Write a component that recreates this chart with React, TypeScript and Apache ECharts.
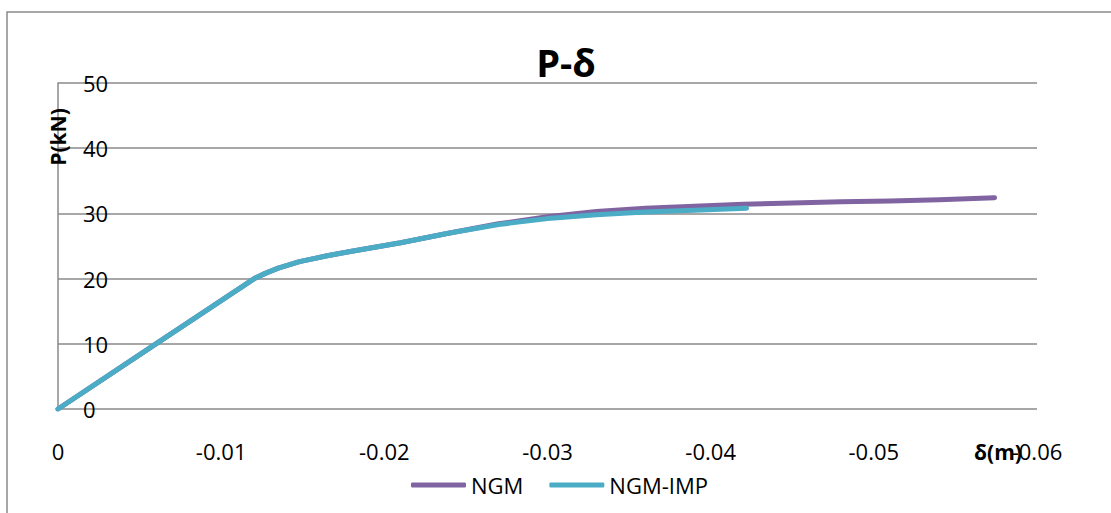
import React, { useEffect, useRef } from "react";
import * as echarts from "echarts";

const ngmX = [0, -0.006, -0.0121, -0.0127, -0.0135, -0.0148, -0.0165, -0.018, -0.021, -0.024, -0.027, -0.03, -0.033, -0.036, -0.039, -0.042, -0.045, -0.048, -0.051, -0.054, -0.0574];
const ngmY = [0, 10, 20.1, 20.8, 21.6, 22.6, 23.5, 24.2, 25.5, 27.0, 28.4, 29.5, 30.3, 30.8, 31.1, 31.4, 31.6, 31.8, 31.9, 32.1, 32.4];
const impX = [0, -0.006, -0.0121, -0.0127, -0.0135, -0.0148, -0.0165, -0.018, -0.021, -0.024, -0.027, -0.03, -0.033, -0.036, -0.039, -0.0422];
const impY = [0, 10, 20.1, 20.8, 21.6, 22.6, 23.5, 24.2, 25.5, 27.0, 28.3, 29.2, 29.8, 30.2, 30.5, 30.8];
const seriesNames = ["NGM", "NGM-IMP"];
const seriesColors = ["#8064A2", "#4BACC6"];
const titleText = "P-δ";
const xName = "δ(m)";
const yName = "P(kN)";

const FONT = "'Open Sans', 'Liberation Sans', sans-serif";

export default function App() {
  const ref = useRef<HTMLDivElement>(null);
  useEffect(() => {
    if (!ref.current) return;
    const chart = echarts.init(ref.current, null, { renderer: "svg" });
    const ngm = ngmX.map((x, i) => [x, ngmY[i]]);
    const imp = impX.map((x, i) => [x, impY[i]]);
    chart.setOption({
      animation: false,
      backgroundColor: "#ffffff",
      textStyle: { fontFamily: FONT },
      title: {
        text: titleText,
        left: 561,
        textAlign: "center",
        top: 38,
        textStyle: { fontFamily: FONT, fontSize: 38, fontWeight: "bold", color: "#000" },
      },
      grid: { left: 58, right: 74, top: 83, bottom: 104, containLabel: false },
      legend: {
        left: 406,
        top: 469,
        icon: "roundRect",
        itemWidth: 55,
        itemHeight: 5,
        itemGap: 26,
        textStyle: { fontFamily: FONT, fontSize: 22, color: "#000" },
        data: seriesNames,
      },
      xAxis: {
        type: "value",
        min: -0.06,
        max: 0,
        interval: 0.01,
        inverse: true,
        axisLine: { show: false },
        axisTick: { show: false },
        splitLine: { show: false },
        axisLabel: {
          margin: 31,
          fontSize: 22,
          fontFamily: FONT,
          color: "#000",
          formatter: (v: number) => (Math.abs(v) < 1e-9 ? "0" : String(+v.toFixed(2))),
        },
      },
      yAxis: {
        type: "value",
        min: 0,
        max: 50,
        interval: 10,
        axisLine: { show: true, lineStyle: { color: "#8a8a8a", width: 1.5 } },
        axisTick: { show: false },
        splitLine: { show: true, lineStyle: { color: "#8a8a8a", width: 1.5 } },
        axisLabel: {
          inside: true,
          margin: 25,
          fontSize: 22,
          fontFamily: FONT,
          color: "#000",
        },
      },
      graphic: [
        {
          type: "rect",
          shape: { x: 7, y: 12, width: 1300, height: 700 },
          style: { fill: "none", stroke: "#8a8a8a", lineWidth: 1.5 },
          silent: true,
          z: -1,
        },
        {
          type: "text",
          x: 58,
          y: 137,
          rotation: Math.PI / 2,
          style: {
            text: yName,
            fontFamily: FONT,
            fontSize: 21,
            fontWeight: "bold",
            fill: "#000",
            align: "center",
            verticalAlign: "middle",
          },
          z: 10,
        },
        {
          type: "text",
          x: 998,
          y: 452,
          style: {
            text: xName,
            fontFamily: FONT,
            fontSize: 21,
            fontWeight: "bold",
            fill: "#000",
            align: "center",
            verticalAlign: "middle",
          },
          z: 10,
        },
      ],
      series: [
        {
          name: seriesNames[0],
          type: "line",
          data: ngm,
          showSymbol: false,
          symbol: "none",
          color: seriesColors[0],
          lineStyle: { width: 5, color: seriesColors[0], cap: "round", join: "round" },
          z: 2,
        },
        {
          name: seriesNames[1],
          type: "line",
          data: imp,
          showSymbol: false,
          symbol: "none",
          color: seriesColors[1],
          lineStyle: { width: 5, color: seriesColors[1], cap: "round", join: "round" },
          z: 3,
        },
      ],
    });
    return () => chart.dispose();
  }, []);
  return (
    <div
      ref={ref}
      style={{ position: "fixed", left: 0, top: 0, width: 1111, height: 513 }}
    />
  );
}
